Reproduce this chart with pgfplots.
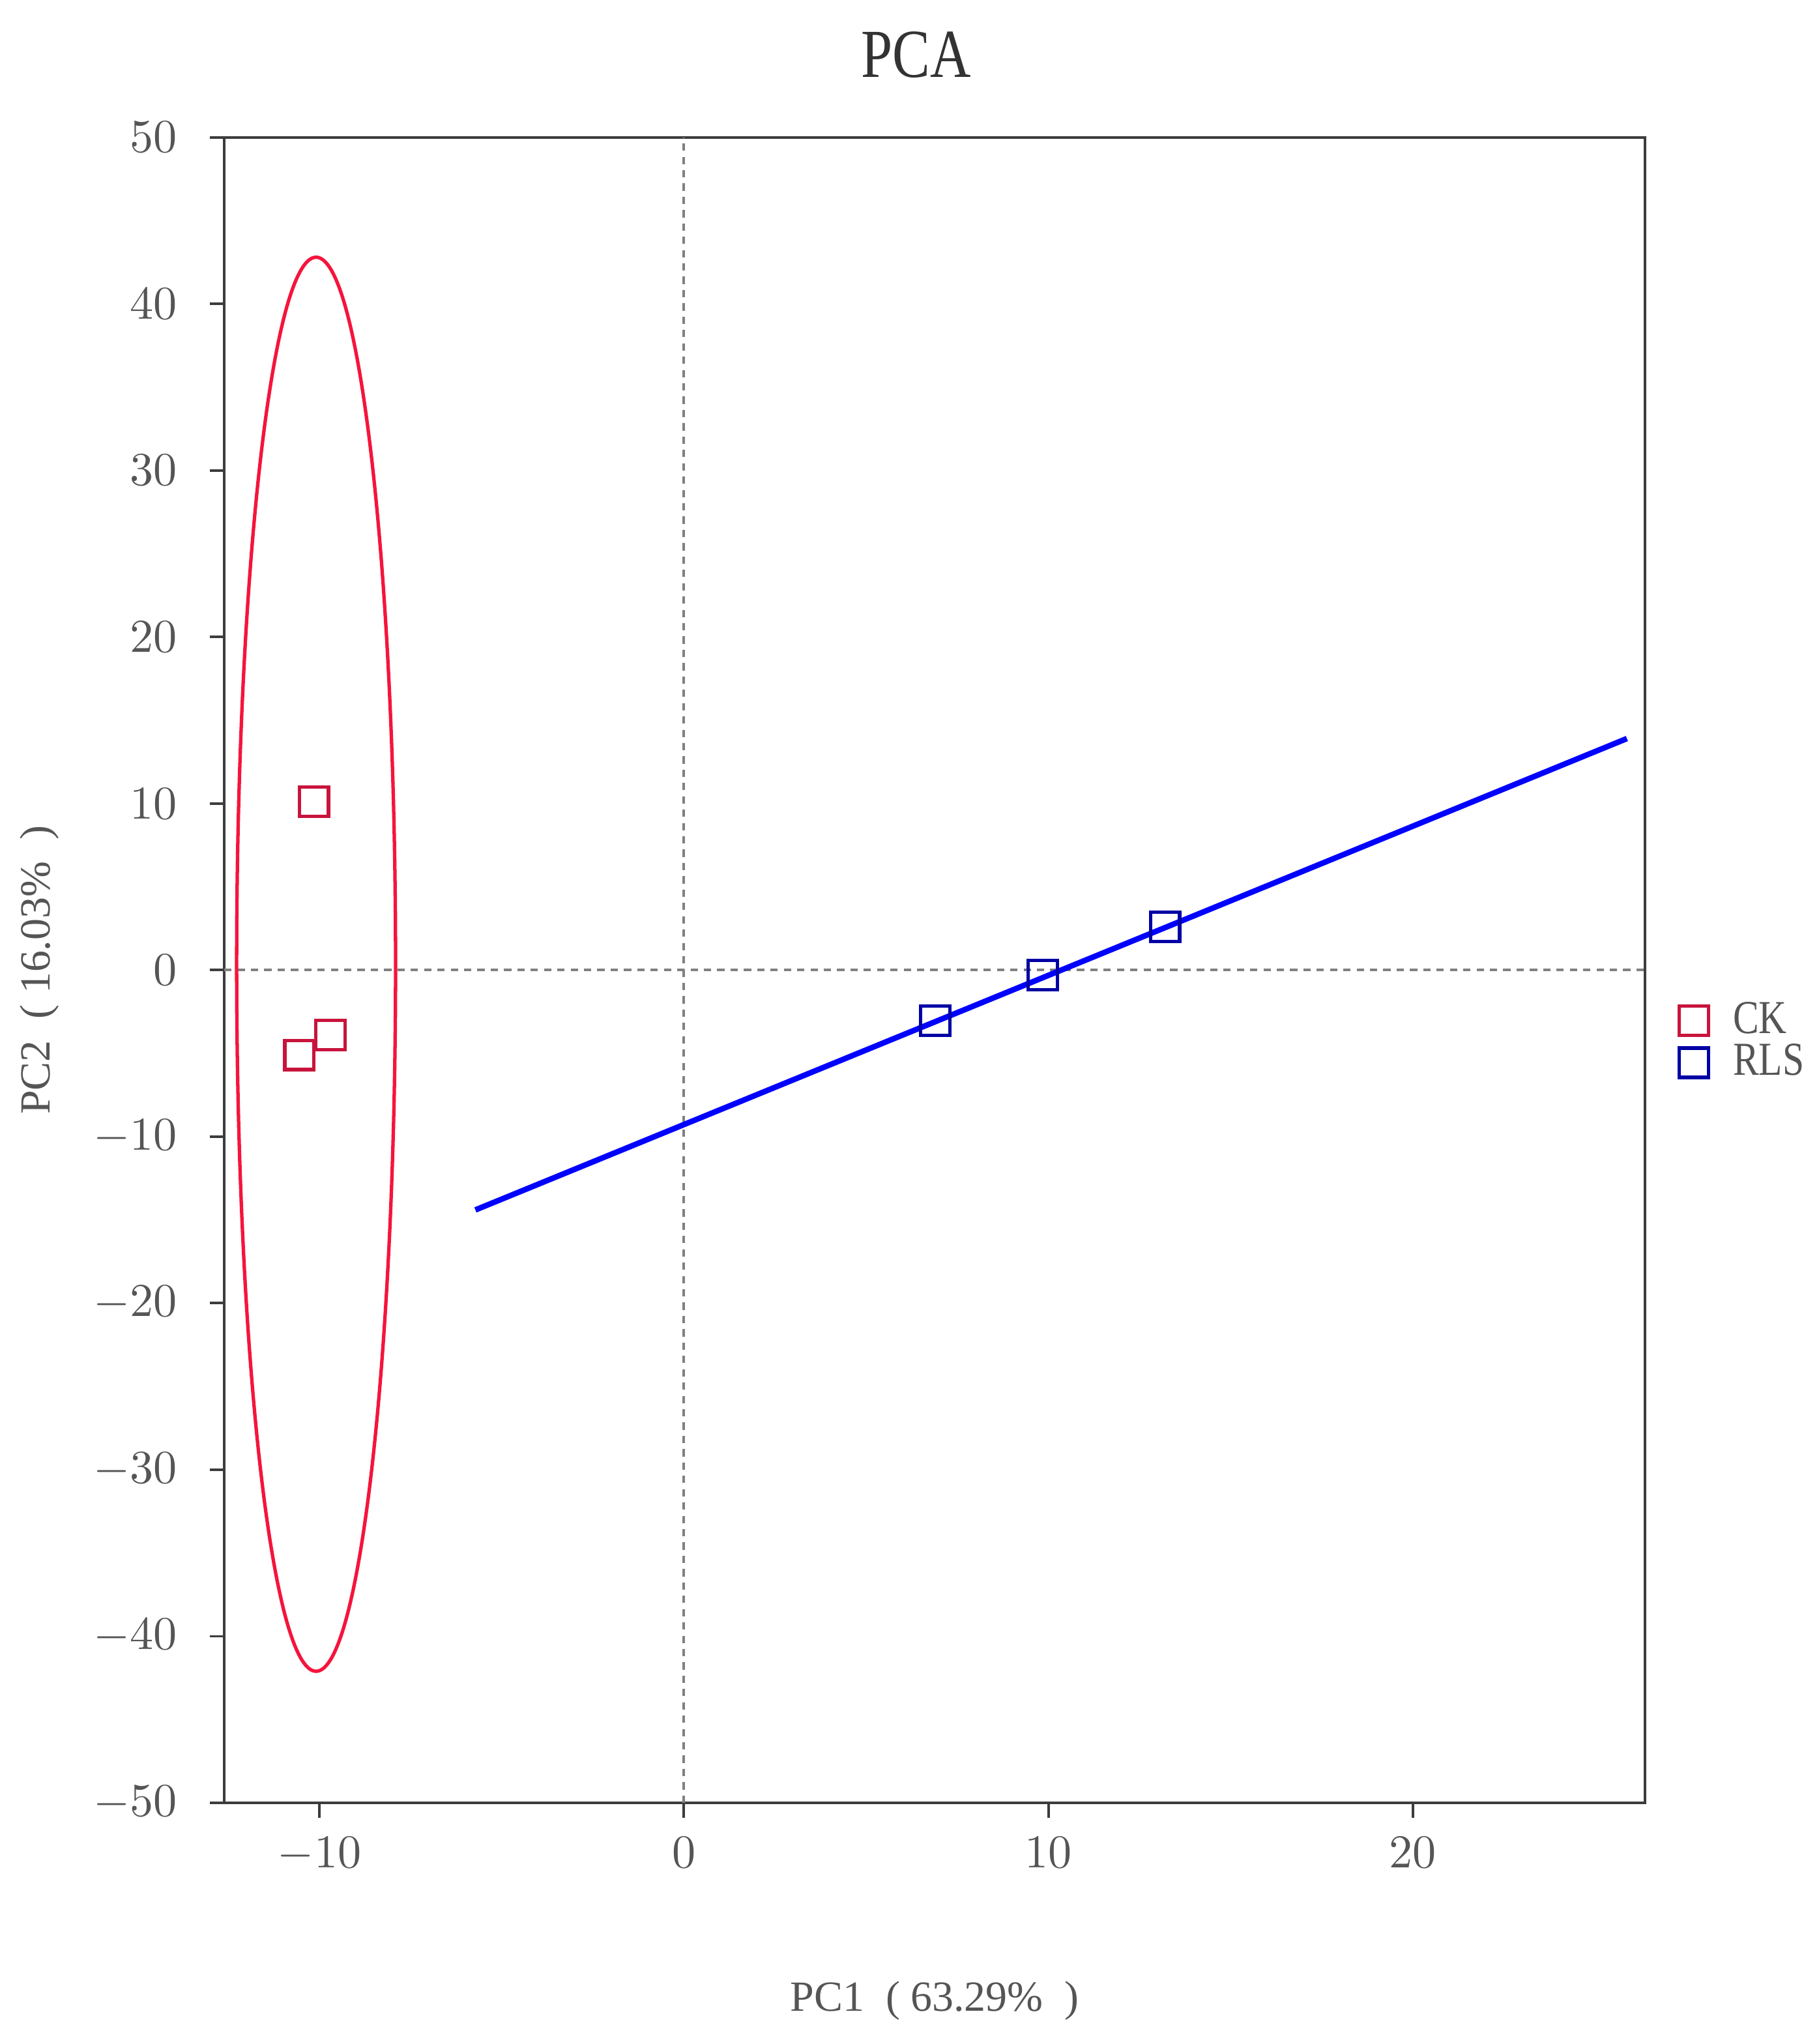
\documentclass[border=0pt]{standalone}
\usepackage{fontspec}
\setmainfont{Liberation Serif}
\newfontfamily\narrowserif[FakeStretch=0.82]{Liberation Serif}
\usepackage{pgfplots}
\pgfplotsset{compat=1.18}
\definecolor{ckred}{RGB}{200,20,60}
\definecolor{ellred}{RGB}{245,20,60}
\definecolor{rlsblue}{RGB}{0,0,165}
\definecolor{fitblue}{RGB}{0,0,255}
\definecolor{txtgray}{RGB}{85,85,85}
\definecolor{spine}{RGB}{60,60,60}
\pgfplotsset{
    onemark/.style={legend image code/.code={
        \path[draw=none] (0cm,0cm) (0.42cm,0cm);
        \draw[##1] plot coordinates {(0.17cm,0cm)};}},
}
\begin{document}
\begin{tikzpicture}
\path[use as bounding box] (-1.834,-1.972) rectangle (13.037,14.743);
\begin{axis}[
    scale only axis,
    width=11.62cm, height=13.62cm,
    xmin=-12.61, xmax=26.37,
    ymin=-50, ymax=50,
    xtick={-10,0,10,20},
    ytick={-50,-40,...,50},
    tick align=outside,
    xtick pos=bottom, ytick pos=left,
    major tick length=0.12cm,
    axis line style={spine, line width=0.6pt},
    every tick/.style={spine, line width=0.6pt},
    tick label style={txtgray, font=\fontsize{10.5}{12}\selectfont},
    yticklabel style={xshift=-0.14cm},
    xticklabel style={yshift=-0.04cm},
    title={PCA},
    title style={at={(0.487,1.034)}, anchor=center, font=\narrowserif\fontsize{16}{19}\selectfont, color=black!80},
    xlabel={PC1 \ ( 63.29\% \ )},
    ylabel={PC2 \ ( 16.03\% \ )},
    label style={txtgray, font=\fontsize{10}{12}\selectfont},
    xlabel style={at={(0.5,-0.119)}, anchor=center},
    ylabel style={at={(-0.130,0.500)}, anchor=center},
    legend style={at={(1.010,0.457)}, anchor=west, draw=none, fill=none,
        font=\narrowserif\fontsize{11}{11}\selectfont, text=txtgray, row sep=-3pt},
    legend cell align=left,
]
% zero reference lines
\addplot[forget plot, gray, line width=0.6pt, dash pattern=on 1.7pt off 1.4pt] coordinates {(0,-50) (0,50)};
\addplot[forget plot, gray, line width=0.6pt, dash pattern=on 1.7pt off 1.4pt] coordinates {(-12.61,0) (26.37,0)};
% CK confidence ellipse
\draw[ellred, line width=0.8pt] (axis cs:-10.09,0.35) ellipse [x radius=2.18, y radius=42.45];
% RLS fitted line
\addplot[forget plot, fitblue, line width=1.3pt] coordinates {(-5.72,-14.4) (25.87,13.9)};
% samples
\addplot[only marks, mark=square, mark size=3.4pt, ckred, line width=0.8pt, onemark]
    coordinates {(-10.15,10.1) (-10.55,-5.1) (-9.7,-3.9)};
\addlegendentry{CK}
\addplot[only marks, mark=square, mark size=3.4pt, rlsblue, line width=0.8pt, onemark]
    coordinates {(6.9,-3.05) (9.85,-0.3) (13.2,2.6)};
\addlegendentry{RLS}
\end{axis}
\end{tikzpicture}
\end{document}
